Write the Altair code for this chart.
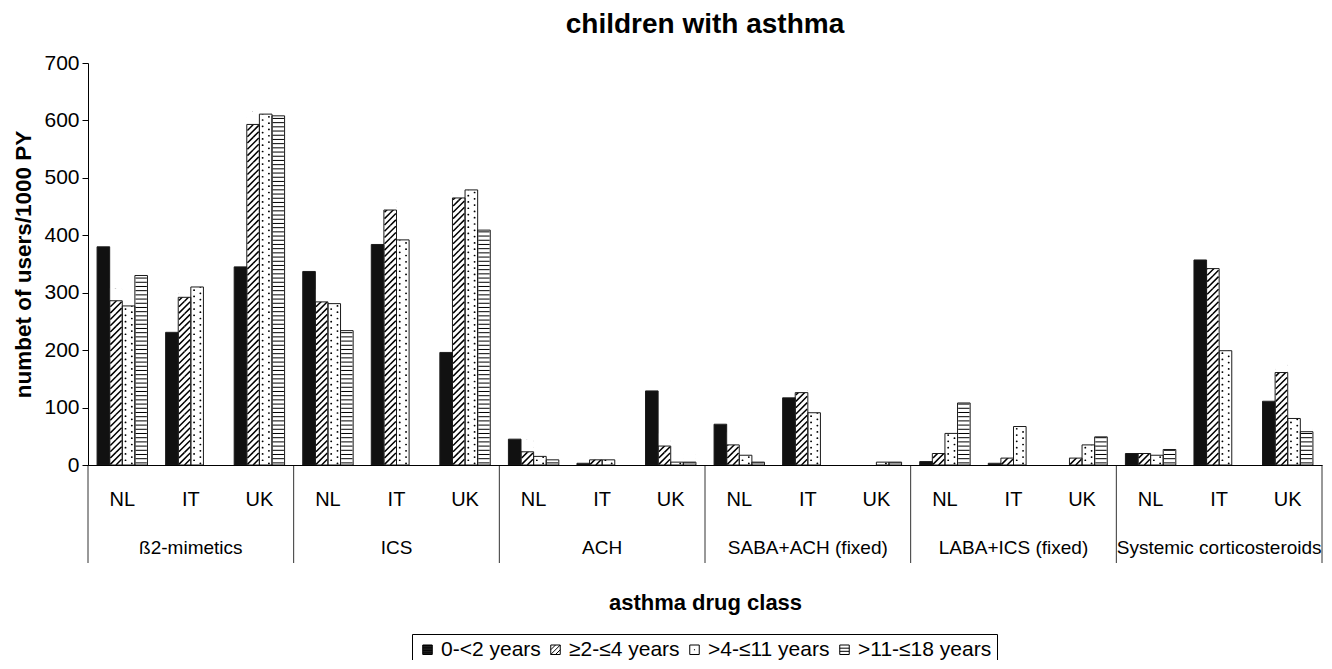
import altair as alt
import pandas as pd

# ---------------- data ----------------
classes = ["ß2-mimetics", "ICS", "ACH", "SABA+ACH (fixed)", "LABA+ICS (fixed)", "Systemic corticosteroids"]
countries = ["NL", "IT", "UK"]
age_groups = ["0-<2 years", "≥2-≤4 years", ">4-≤11 years", ">11-≤18 years"]

# values per age group, ordered class by class, NL / IT / UK inside each class
age_0_2 = [380, 231, 345, 337, 384, 196, 45, 3, 129, 71, 117, 0, 6, 3, 0, 20, 357, 111]
age_2_4 = [286, 292, 593, 284, 444, 465, 23, 9, 33, 35, 126, 0, 20, 12, 12, 20, 342, 161]
age_4_11 = [277, 310, 611, 281, 392, 479, 15, 9, 5, 17, 91, 5, 55, 67, 35, 17, 199, 81]
age_11_18 = [330, 0, 608, 234, 0, 409, 9, 0, 5, 5, 0, 5, 108, 0, 49, 27, 0, 58]

y_ticks = [0, 100, 200, 300, 400, 500, 600, 700]

# ---------------- tables ----------------
series_values = [age_0_2, age_2_4, age_4_11, age_11_18]
keys = [f"{c}|{k}" for c in classes for k in countries]
rows = []
for s, vals in zip(age_groups, series_values):
    for key, v in zip(keys, vals):
        c, k = key.split("|")
        rows.append({"cls": c, "country": k, "key": key, "series": s, "value": v})
df = pd.DataFrame(rows)

cls_df = pd.DataFrame({
    "cls": classes,
    "mid_key": [f"{c}|{countries[1]}" for c in classes],
    "start_key": [f"{c}|{countries[0]}" for c in classes],
})
end_df = pd.DataFrame({"end_key": [keys[-1]]})

# ---------------- style / geometry ----------------
FONT = "Liberation Sans"
W, H = 1234, 402
YMAX = 700
OUTER = 0.72
BAR_PX = W / len(keys) / (len(age_groups) + 2 * OUTER)
TILE = BAR_PX * YMAX / H  # pattern tile height in data units

# pattern tiles (unit square -1..1, scaled to one bar width)
HATCH = "M-0.9,-0.1L0,-1M-0.9,0.9L0.9,-0.9M0,1L0.9,0.1"
DOTS = "M-0.5,-0.75h0.03M-0.5,0.25h0.03M0.5,-0.25h0.03M0.5,0.75h0.03"
HORIZ = "M-0.9,-0.6667H0.9M-0.9,0H0.9M-0.9,0.6667H0.9"

# legend symbols
BOX = "M-1,-1H1V1H-1Z"
LEG_SOLID = BOX + "".join(f"M-1,{-0.9 + 0.15 * i:.2f}H1" for i in range(13))
LEG_HATCH = BOX + "M-1,0L0,-1M-1,1L1,-1M0,1L1,0"
LEG_DOTS = BOX + "M-0.12,0H0.12"
LEG_HORIZ = BOX + "M-1,-0.33H1M-1,0.33H1"

xscale = alt.Scale(domain=keys, paddingInner=0, paddingOuter=0, round=False)
xoscale = alt.Scale(domain=age_groups, paddingInner=0, paddingOuter=OUTER, round=False)
yscale = alt.Scale(domain=[0, YMAX], nice=False)

XAXIS = alt.Axis(
    title="asthma drug class", titleFontSize=22, titleFontWeight="bold",
    titleColor="black", titlePadding=83,
    labelExpr="split(datum.label, '|')[1]", labelAngle=0, labelFontSize=20,
    labelColor="black", labelPadding=24, ticks=False, tickSize=0,
    domainColor="black", domainWidth=1, zindex=1,
)
YAXIS = alt.Axis(
    values=y_ticks, title="numbet of users/1000 PY", titleFontSize=22.5,
    titleFontWeight="bold", titleColor="black", titlePadding=8,
    labelFontSize=21, labelColor="black", labelPadding=3,
    tickSize=6, tickColor="black", domainColor="black", grid=False, zindex=1,
)


def X(field="key:N", **kw):
    return alt.X(field, scale=xscale, axis=XAXIS, **kw)


def XO():
    return alt.XOffset("series:N", scale=xoscale)


def Y(field="value:Q"):
    return alt.Y(field, scale=yscale, axis=YAXIS)


base = alt.Chart(df)

bars = base.mark_bar().encode(
    x=X(), xOffset=XO(), y=Y(),
    fill=alt.condition(alt.datum.series == age_groups[0], alt.value("#111111"), alt.value("white")),
)


def tiles(series_name, path, sw, cap):
    return (
        base.transform_filter(alt.datum.series == series_name)
        .transform_calculate(tile=f"sequence({TILE / 2}, datum.value + {TILE / 2}, {TILE})")
        .transform_flatten(["tile"])
        .mark_point(shape=path, size=BAR_PX ** 2, filled=False, stroke="black",
                    strokeWidth=sw, strokeCap=cap, opacity=1)
        .encode(x=X(), xOffset=XO(), y=Y("tile:Q"))
    )


hatch = tiles(age_groups[1], HATCH, 1.5, "butt")
dots = tiles(age_groups[2], DOTS, 1.7, "round")
horiz = tiles(age_groups[3], HORIZ, 1.0, "butt")

mask = (
    base.transform_filter("datum.value > 0")
    .transform_calculate(top=f"datum.value + {TILE}")
    .mark_bar(fill="white")
    .encode(x=X(), xOffset=XO(), y=Y(), y2="top:Q")
)

outline = (
    base.transform_filter("datum.value > 0")
    .mark_bar(fill="transparent", stroke="#1a1a1a", strokeWidth=1)
    .encode(x=X(), xOffset=XO(), y=Y())
)

leg = alt.Legend(
    title=None, orient="none", legendX=324, legendY=571, direction="horizontal",
    strokeColor="black", padding=5, fillColor="white",
    labelFontSize=21, labelColor="black", labelFont=FONT, labelOffset=3,
    symbolSize=90, symbolStrokeWidth=1, symbolOpacity=1,
    columnPadding=4,
)
legend_layer = base.mark_point(filled=False, opacity=0, stroke="black", strokeWidth=1).encode(
    x=X(), xOffset=XO(), y=Y(),
    shape=alt.Shape("series:N", scale=alt.Scale(domain=age_groups,
                    range=[LEG_SOLID, LEG_HATCH, LEG_DOTS, LEG_HORIZ]), legend=leg),
)

class_labels = alt.Chart(cls_df).mark_text(
    fontSize=19, color="black", baseline="middle", align="center"
).encode(x=X("mid_key:N"), y=alt.value(H + 83), text="cls:N")

separators = alt.Chart(cls_df).mark_rule(color="#333333", strokeWidth=1).encode(
    x=X("start_key:N", bandPosition=0), y=alt.value(H), y2=alt.value(H + 98)
)
end_sep = alt.Chart(end_df).mark_rule(color="#333333", strokeWidth=1).encode(
    x=X("end_key:N", bandPosition=1), y=alt.value(H), y2=alt.value(H + 98)
)

chart = (
    alt.layer(bars, hatch, dots, horiz, mask, outline, legend_layer,
              class_labels, separators, end_sep)
    .properties(
        width=W, height=H, autosize="none",
        padding={"left": 80, "top": 55, "right": 2, "bottom": 195},
        background="white",
        title=alt.TitleParams("children with asthma", fontSize=28, fontWeight="bold",
                              anchor="middle", color="black", offset=13),
    )
    .configure(font=FONT)
    .configure_view(stroke=None)
)

chart.save("out.html", embed_options={"renderer": "svg", "actions": False})
